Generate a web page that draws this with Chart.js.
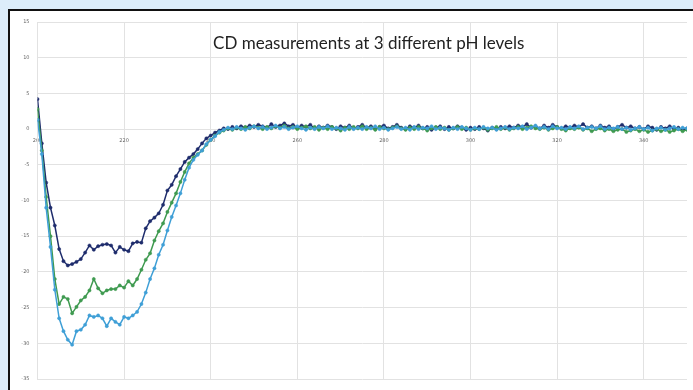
<!DOCTYPE html>
<html>
<head>
<meta charset="utf-8">
<script src="https://cdn.jsdelivr.net/npm/chart.js@4/dist/chart.umd.min.js"></script>
<style>
  html, body { margin: 0; padding: 0; background: #dcedfa; width: 693px; height: 390px; overflow: hidden; }
  #panel { position: absolute; left: 8px; top: 9px; width: 720px; height: 420px;
           border-left: 2px solid #111; border-top: 2px solid #111; background: #fff; }
  #c { position: absolute; left: 10px; top: 11px; }
</style>
</head>
<body>
<div id="panel"></div>
<canvas id="c" width="683" height="379"></canvas>
<script>
// Wavelength sampling (nm)
const startNm = 200;
const stepNm = 1;

const titleText = 'CD measurements at 3 different pH levels';
const seriesNames = ['pH A', 'pH B', 'pH C'];

// Ellipticity readings, one value per nm from 200 to 350
const darkSeries = [
  4.2, -2.0, -7.5, -11.0, -13.5, -16.8, -18.5, -19.1, -18.9, -18.6,
  -18.2, -17.3, -16.3, -16.9, -16.4, -16.2, -16.1, -16.3, -17.3, -16.5,
  -16.9, -17.1, -16.0, -15.8, -15.9, -13.9, -12.9, -12.4, -11.8, -10.6,
  -8.6, -7.8, -6.6, -5.6, -4.6, -4.0, -3.5, -2.8, -2.0, -1.3,
  -0.9, -0.5, -0.2, 0.1,
  0.0, 0.3, 0.1, 0.4, 0.2, 0.5, 0.3, 0.6, 0.4, 0.2,
  0.7, 0.3, 0.5, 0.8, 0.4, 0.6, 0.2, 0.5, 0.3, 0.6,
  0.1, 0.4, 0.2, 0.5, 0.3, 0.0, 0.4, 0.2, 0.5, 0.1,
  0.3, 0.6, 0.2, 0.4, 0.0, 0.3, 0.5, 0.1, 0.3, 0.6,
  0.2, 0.0, 0.4, 0.2, 0.5, 0.1, 0.3, -0.1, 0.2, 0.4,
  0.0, 0.3, 0.1, 0.4, 0.2, -0.1, 0.2, 0.0, 0.3, 0.1,
  -0.2, 0.2, 0.0, 0.3, 0.1, 0.4, 0.2, 0.5, 0.3, 0.7,
  0.2, 0.4, 0.1, 0.5, 0.2, 0.6, 0.3, 0.1, 0.4, 0.2,
  0.5, 0.3, 0.7, 0.2, 0.4, 0.1, 0.5, 0.2, 0.4, 0.0,
  0.3, 0.6, 0.2, 0.4, 0.1, 0.3, 0.0, 0.4, 0.2, -0.1,
  0.3, 0.1, 0.4, 0.0, 0.2, -0.1, 0.1
];

const greenSeries = [
  2.8, -3.0, -9.5, -15.0, -21.0, -24.5, -23.5, -23.8, -25.8, -24.9,
  -24.0, -23.5, -22.6, -21.0, -22.3, -23.0, -22.6, -22.4, -22.4, -21.9,
  -22.2, -21.3, -21.9, -21.0, -19.7, -18.3, -17.4, -15.6, -14.3, -13.2,
  -11.6, -10.3, -9.0, -7.4, -6.0, -4.8, -4.0, -3.5, -3.0, -2.2,
  -1.5, -0.9, -0.5, -0.2,
  0.1, -0.1, 0.2, 0.0, 0.3, 0.1, 0.4, 0.2, 0.0, 0.3,
  0.1, 0.4, 0.2, 0.5, 0.1, 0.3, 0.0, 0.2, 0.4, 0.1,
  0.3, -0.1, 0.2, 0.0, 0.3, 0.1, -0.2, 0.2, 0.0, 0.3,
  0.1, 0.4, 0.0, 0.2, -0.1, 0.3, 0.1, 0.0, 0.2, 0.4,
  0.1, -0.1, 0.2, 0.0, 0.3, 0.1, -0.2, 0.1, 0.3, 0.0,
  0.2, -0.1, 0.1, 0.3, 0.0, 0.2, -0.1, 0.1, 0.0, 0.2,
  -0.1, 0.1, 0.3, 0.0, 0.2, -0.1, 0.1, 0.3, 0.0, 0.2,
  0.4, 0.1, 0.0, 0.2, -0.1, 0.1, 0.3, 0.0, -0.2, 0.1,
  0.0, 0.2, -0.1, 0.1, -0.3, 0.0, 0.1, -0.2, 0.0, -0.3,
  -0.1, 0.0, -0.4, -0.2, 0.0, -0.3, -0.1, -0.4, -0.2, 0.0,
  -0.3, -0.1, -0.4, -0.2, 0.0, -0.3, -0.1
];

const blueSeries = [
  1.3, -3.5, -11.0, -16.5, -22.5, -26.5, -28.3, -29.5, -30.2, -28.3,
  -28.1, -27.4, -26.1, -26.3, -26.1, -26.5, -27.6, -26.5, -27.0, -27.4,
  -26.3, -26.5, -26.1, -25.6, -24.5, -22.9, -21.0, -19.5, -17.6, -16.2,
  -14.2, -12.3, -10.7, -9.0, -7.1, -5.4, -4.3, -3.6, -3.0, -2.1,
  -1.5, -1.0, -0.4, -0.1,
  0.2, 0.0, 0.3, 0.1, -0.1, 0.2, 0.4, 0.1, 0.3, 0.0,
  0.2, 0.5, 0.1, 0.3, 0.0, 0.2, 0.4, 0.1, -0.1, 0.2,
  0.0, 0.3, 0.1, 0.4, 0.0, 0.2, 0.1, -0.1, 0.3, 0.0,
  0.2, 0.0, 0.3, 0.1, 0.4, 0.0, 0.2, -0.1, 0.1, 0.3,
  0.0, 0.2, -0.1, 0.3, 0.0, 0.2, 0.1, 0.4, 0.0, 0.2,
  0.1, -0.1, 0.2, 0.0, 0.3, 0.1, -0.1, 0.2, 0.0, 0.3,
  0.1, 0.2, -0.1, 0.1, 0.3, 0.0, 0.2, 0.1, 0.4, 0.0,
  0.2, 0.5, 0.1, 0.3, 0.0, 0.4, 0.1, 0.2, 0.0, 0.3,
  0.1, 0.4, 0.0, 0.2, 0.3, 0.1, 0.4, 0.0, 0.2, 0.1,
  0.3, 0.0, 0.2, -0.1, 0.1, 0.3, 0.0, 0.2, -0.2, 0.1,
  0.2, -0.1, 0.1, 0.3, 0.0, 0.2, 0.1
];

// Axis ranges and tick spacing
const xMin = 200, xMax = 350, xStep = 20;
const yMin = -35, yMax = 15, yStep = 5;

const colors = ['#1e2c6c', '#3f9a50', '#3f9fd6'];

function toPoints(values) {
  return values.map((v, i) => ({ x: startNm + i * stepNm, y: v }));
}

const seriesList = [darkSeries, greenSeries, blueSeries];

// Title drawn over the plot area, near its top
const overlayTitle = {
  id: 'overlayTitle',
  afterDraw(chart) {
    const { ctx, chartArea } = chart;
    ctx.save();
    ctx.font = '17px Lato, "Open Sans", sans-serif';
    ctx.fillStyle = '#222';
    ctx.textAlign = 'center';
    ctx.textBaseline = 'middle';
    ctx.fillText(titleText, chartArea.left + (chartArea.right - chartArea.left) * 0.51, chartArea.top + 22);
    ctx.restore();
  }
};

const gridColor = '#e2e2e2';
const tickFont = { family: 'DejaVu Sans', size: 5 };

new Chart(document.getElementById('c'), {
  type: 'line',
  data: {
    datasets: seriesList.map((vals, k) => ({
      label: seriesNames[k],
      data: toPoints(vals),
      borderColor: colors[k],
      backgroundColor: colors[k],
      pointBackgroundColor: colors[k],
      pointBorderColor: colors[k],
      borderWidth: 1.5,
      pointRadius: 1.6,
      pointBorderWidth: 0.5,
      tension: 0,
      fill: false,
      order: 3 - k
    }))
  },
  options: {
    responsive: false,
    animation: false,
    devicePixelRatio: 1,
    layout: { padding: { top: 11, right: 6, bottom: 3, left: 0 } },
    plugins: {
      legend: { display: false },
      tooltip: { enabled: false },
      title: { display: false }
    },
    scales: {
      x: {
        type: 'linear',
        position: { y: 0 },
        min: xMin,
        max: xMax,
        afterBuildTicks(scale) {
          scale.ticks = scale.ticks.filter(t => (t.value - xMin) % xStep === 0);
        },
        ticks: { stepSize: xStep, font: tickFont, color: '#666', padding: 9, maxRotation: 0 },
        grid: { color: gridColor, drawTicks: false },
        border: { display: false }
      },
      y: {
        min: yMin,
        max: yMax,
        afterFit(scale) { scale.width = 27.5; },
        ticks: { stepSize: yStep, font: tickFont, color: '#666', padding: 8 },
        grid: { color: gridColor, drawTicks: false },
        border: { color: gridColor }
      }
    }
  },
  plugins: [overlayTitle]
});
</script>
</body>
</html>
